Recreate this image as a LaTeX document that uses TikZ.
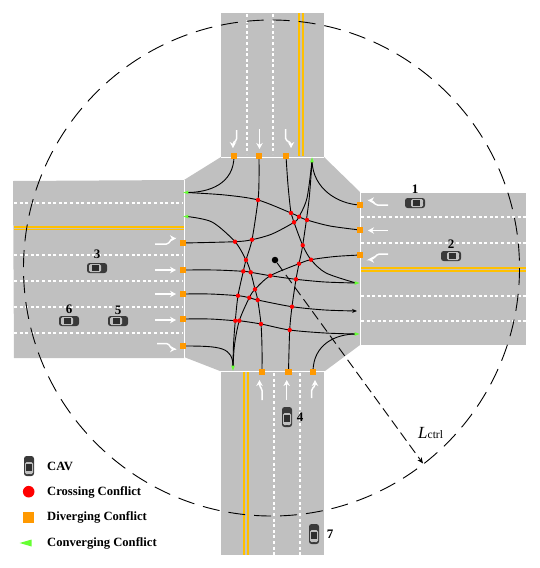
\documentclass[tikz,border=0pt]{standalone}
\usepackage{fontspec}
\setmainfont{Liberation Serif}
\usetikzlibrary{arrows.meta,shapes.geometric}
\pgfdeclarelayer{front}
\pgfsetlayers{main,front}
\definecolor{road}{HTML}{C0C0C0}
\definecolor{lineyel}{HTML}{FFC000}
\definecolor{divc}{HTML}{FF9900}
\definecolor{conv}{HTML}{66FF33}
\definecolor{cardark}{HTML}{3A3A3A}
\tikzset{
  x=1pt,y=-1pt,
  rd/.style={fill=road,draw=none},
  mouth/.style={white,line width=0.9pt},
  lanedash/.style={white,line width=1.1pt,dash pattern=on 3pt off 2.6pt},
  yelbar/.style={fill=lineyel,draw=none},
  crossdot/.style={circle,fill=red,inner sep=0pt,minimum size=4.4pt},
  divbox/.style={rectangle,fill=divc,inner sep=0pt,minimum size=6.8pt},
  convmark/.style={isosceles triangle,fill=conv,inner sep=0pt,isosceles triangle stretches,minimum width=3.6pt,minimum height=5pt,shape border rotate=#1},
  flow/.style={black,line width=0.9pt,line cap=round},
  lanearrow/.style={white,line width=1.5pt,-{Stealth[length=6pt,width=6.5pt]},rounded corners=1.5pt},
  numlab/.style={font=\fontsize{13}{13}\selectfont\bfseries,inner sep=0pt},
  leglab/.style={font=\fontsize{12.6}{13}\selectfont\bfseries,inner sep=0pt,anchor=west},
  car/.pic={
    \fill[cardark,rounded corners=2.6pt] (-10,-5) rectangle (10,5);
    \fill[white!75!black,rounded corners=1.5pt] (-8,-4) rectangle (4,4);
    \fill[cardark!80!black] (-5,-3) rectangle (2,3);
    \fill[cardark] (-9.3,-1) rectangle (-8,1);
  }
}
\begin{document}
\begin{tikzpicture}
\useasboundingbox (0,0) rectangle (539,568);
% roads
\fill[rd] (221,13) rectangle (324,157);
\fill[rd] (13,181) -- (184,180) -- (184,358) -- (14,358) -- cycle;
\fill[rd] (360,193) rectangle (526,345);
\fill[rd] (221,371) rectangle (324,555);
\fill[rd] (221,157) -- (324,157) -- (360,192) -- (360,345) -- (325,371) -- (220,371) -- (184,357) -- (184,180) -- cycle;
% yellow centre lines
\fill[yelbar] (13.5,226) -- (183.5,226) -- (183.5,230) -- (13.5,230) -- cycle;
\fill[road] (13.5,227.6) -- (183.5,227.6) -- (183.5,228.4) -- (13.5,228.4) -- cycle;
\fill[yelbar] (361,267.4) rectangle (526,268.6);
\fill[yelbar] (361,270.4) rectangle (526,271.6);
\fill[yelbar] (298.4,13) rectangle (299.6,156);
\fill[yelbar] (302.4,13) rectangle (303.6,156);
\fill[yelbar] (243.4,372) rectangle (244.6,555);
\fill[yelbar] (247.4,372) rectangle (248.6,555);
% edges
\draw[mouth] (221,157) -- (324,157);
\draw[mouth] (220,371) -- (325,371);
\draw[mouth] (184,180) -- (184,358);
\draw[mouth] (360,192) -- (360,345);
% lane lines
\foreach \yy in {203,255,281,307,333} \draw[lanedash] (14,\yy) -- (183,\yy);
\foreach \yy in {217,243,296,321} \draw[lanedash] (361,\yy) -- (526,\yy);
\foreach \xx in {247,273} \draw[lanedash] (\xx,14) -- (\xx,154);
\foreach \xx in {274,300} \draw[lanedash] (\xx,373) -- (\xx,555);
% lane arrows
\draw[lanearrow] (155,244) -- (168,244) -- (172,238.5) -- (176,238.5);
\draw[lanearrow] (155,270) -- (176,270);
\draw[lanearrow] (155,294) -- (176,294);
\draw[lanearrow] (155,320) -- (176,320);
\draw[lanearrow] (157,343.5) -- (168,343.5) -- (172,349) -- (176,349);
\draw[lanearrow] (388,205) -- (376,205) -- (372,200.5) -- (368,200.5);
\draw[lanearrow] (388,230.5) -- (368,230.5);
\draw[lanearrow] (388,254) -- (378,254) -- (372,259.5) -- (368,259.5);
\draw[lanearrow] (236.7,130) -- (236.7,140) -- (233,143) -- (233,148);
\draw[lanearrow] (259.5,129) -- (259.5,149);
\draw[lanearrow] (285.7,129) -- (285.7,140) -- (291,143) -- (291,148);
\draw[lanearrow] (262,400) -- (262,389) -- (259.5,386) -- (259.5,380);
\draw[lanearrow] (286.7,400) -- (286.7,380);
\draw[lanearrow] (311.7,398) -- (311.7,389) -- (315,386) -- (315,380);
% conflict nodes
\begin{pgfonlayer}{front}
\foreach \nm/\px/\py in {a/258/200,b/291/213,c/299/216.7,d/307/220,e/294/222.3,f/252/239.7,g/235/241.7,h/302.7/245.3,i/246/260,j/311/259.7,k/299/263.7,l/243.3/271.3,m/250.7/272.3,n/270.3/275.7,o/296/279.3,p/255/289.3,q/238/295.7,r/249.3/297.7,s/257.7/300,t/292/306.7,u/235.3/320.7,v/239.3/320.7,w/261/324,x/289.7/330}
  \node[crossdot] (\nm) at (\px,\py) {};
\foreach \nm/\px/\py in {nA/234/156,nB/259/156,nC/286/156,wA/183/243,wB/183/270,wC/183/294,wD/183/319,wE/183/346,eA/360/205,eB/360/230,eC/360/255,sA/262/372,sB/288.5/372,sC/313/372}
  \node[divbox] (\nm) at (\px,\py) {};
\node[convmark=90] (gn) at (312,161) {};
\node[convmark=180] (gwa) at (187,192.5) {};
\node[convmark=180] (gwb) at (187,216.5) {};
\node[convmark=0] (gea) at (356,283) {};
\node[convmark=0] (geb) at (356,334) {};
\node[convmark=270] (gs) at (233,367) {};
\coordinate (eout) at (357,311);
\end{pgfonlayer}
% conflict paths
\draw[flow] (nA.center) .. controls +(0,28) and +(22,0) .. (gwa.center);
\draw[flow] (gn.center) .. controls +(1,28) and +(-22,-1) .. (eA.center);
\draw[flow] (wE.center) .. controls +(38,0) and +(0,-20) .. (gs.center);
\draw[flow] (sC.center) .. controls +(0,-28) and +(-20,0) .. (geb.center);
\draw[flow] plot[smooth,tension=0.5] coordinates {(gwa.center) (225,195) (a) (b) (c) (d) (330,226) (eB.center)};
\draw[flow] plot[smooth,tension=0.5] coordinates {(nB.center) (259,180) (a) (f) (i) (l) (q) (u) (233.5,345) (gs.center)};
\draw[flow] plot[smooth,tension=0.5] coordinates {(nC.center) (288,185) (b) (e) (h) (j) (326,273) (gea.center)};
\draw[flow] plot[smooth,tension=0.5] coordinates {(wA.center) (g) (f) (272,234) (e) (c) (307,198) (gn.center)};
\draw[flow] plot[smooth,tension=0.5] coordinates {(wB.center) (215,270) (l) (m) (n) (o) (325,282) (gea.center)};
\draw[flow,-{Stealth[length=5pt,width=4pt]}] plot[smooth,tension=0.5] coordinates {(wC.center) (210,294) (q) (r) (s) (t) (325,310) (eout)};
\draw[flow] plot[smooth,tension=0.5] coordinates {(wD.center) (210,319) (u) (v) (w) (x) (325,333) (geb.center)};
\draw[flow] plot[smooth,tension=0.5] coordinates {(sA.center) (262,348) (w) (s) (p) (m) (i) (g) (212,222) (gwb.center)};
\draw[flow] plot[smooth,tension=0.5] coordinates {(sB.center) (x) (t) (o) (k) (h) (309,200) (gn.center)};
\draw[flow] plot[smooth,tension=0.5] coordinates {(eC.center) (335,256.5) (j) (k) (n) (p) (r) (v) (234.5,345) (gs.center)};
% control circle and radius
\node[circle,fill=black,inner sep=0pt,minimum size=6.5pt] (ctr) at (275,260) {};
\coordinate (rim) at (423,463.5);
\draw[black,line width=0.9pt,dash pattern=on 10pt off 5pt,dash phase=0pt,-{Stealth[length=6pt,width=5pt]}] (ctr) -- (rim);
\draw[black,line width=0.9pt,dash pattern=on 17pt off 9pt] (271.5,268) circle[radius=248];
% cars
\pic[rotate=180] at (415,203) {car};
\pic[rotate=180] at (451,256) {car};
\pic at (97,268) {car};
\pic at (69,321) {car};
\pic at (118,321) {car};
\pic[rotate=90] at (287,417) {car};
\pic[rotate=90] at (314,534) {car};
\pic[rotate=90] at (29,466) {car};
% labels
\node[numlab] (t1) at (415,189) {1};
\node[numlab] (t2) at (451,244) {2};
\node[numlab] (t3) at (97,254) {3};
\node[numlab] (t5) at (118,310) {5};
\node[numlab] (t6) at (69,309) {6};
\node[numlab] (t4) at (300,417) {4};
\node[numlab] (t7) at (330,534) {7};
\node[inner sep=0pt,anchor=base west] (lc) at (418,438) {\fontsize{17}{17}\selectfont\itshape L\fontsize{11.5}{12}\selectfont\upshape ctrl};
% legend
\node[leglab] (l1) at (47,466) {CAV};
\node[circle,fill=red,inner sep=0pt,minimum size=11.6pt] (lr) at (28.7,491.7) {};
\node[leglab] (l2) at (47,492) {Crossing Conflict};
\node[rectangle,fill=divc,inner sep=0pt,minimum size=11pt] (lo) at (28.7,517) {};
\node[leglab] (l3) at (47,517) {Diverging Conflict};
\node[isosceles triangle,isosceles triangle stretches,shape border rotate=180,fill=conv,inner sep=0pt,minimum width=7pt,minimum height=12pt] (lg) at (29,543) {};
\node[leglab] (l4) at (47,543) {Converging Conflict};
\end{tikzpicture}
\end{document}
